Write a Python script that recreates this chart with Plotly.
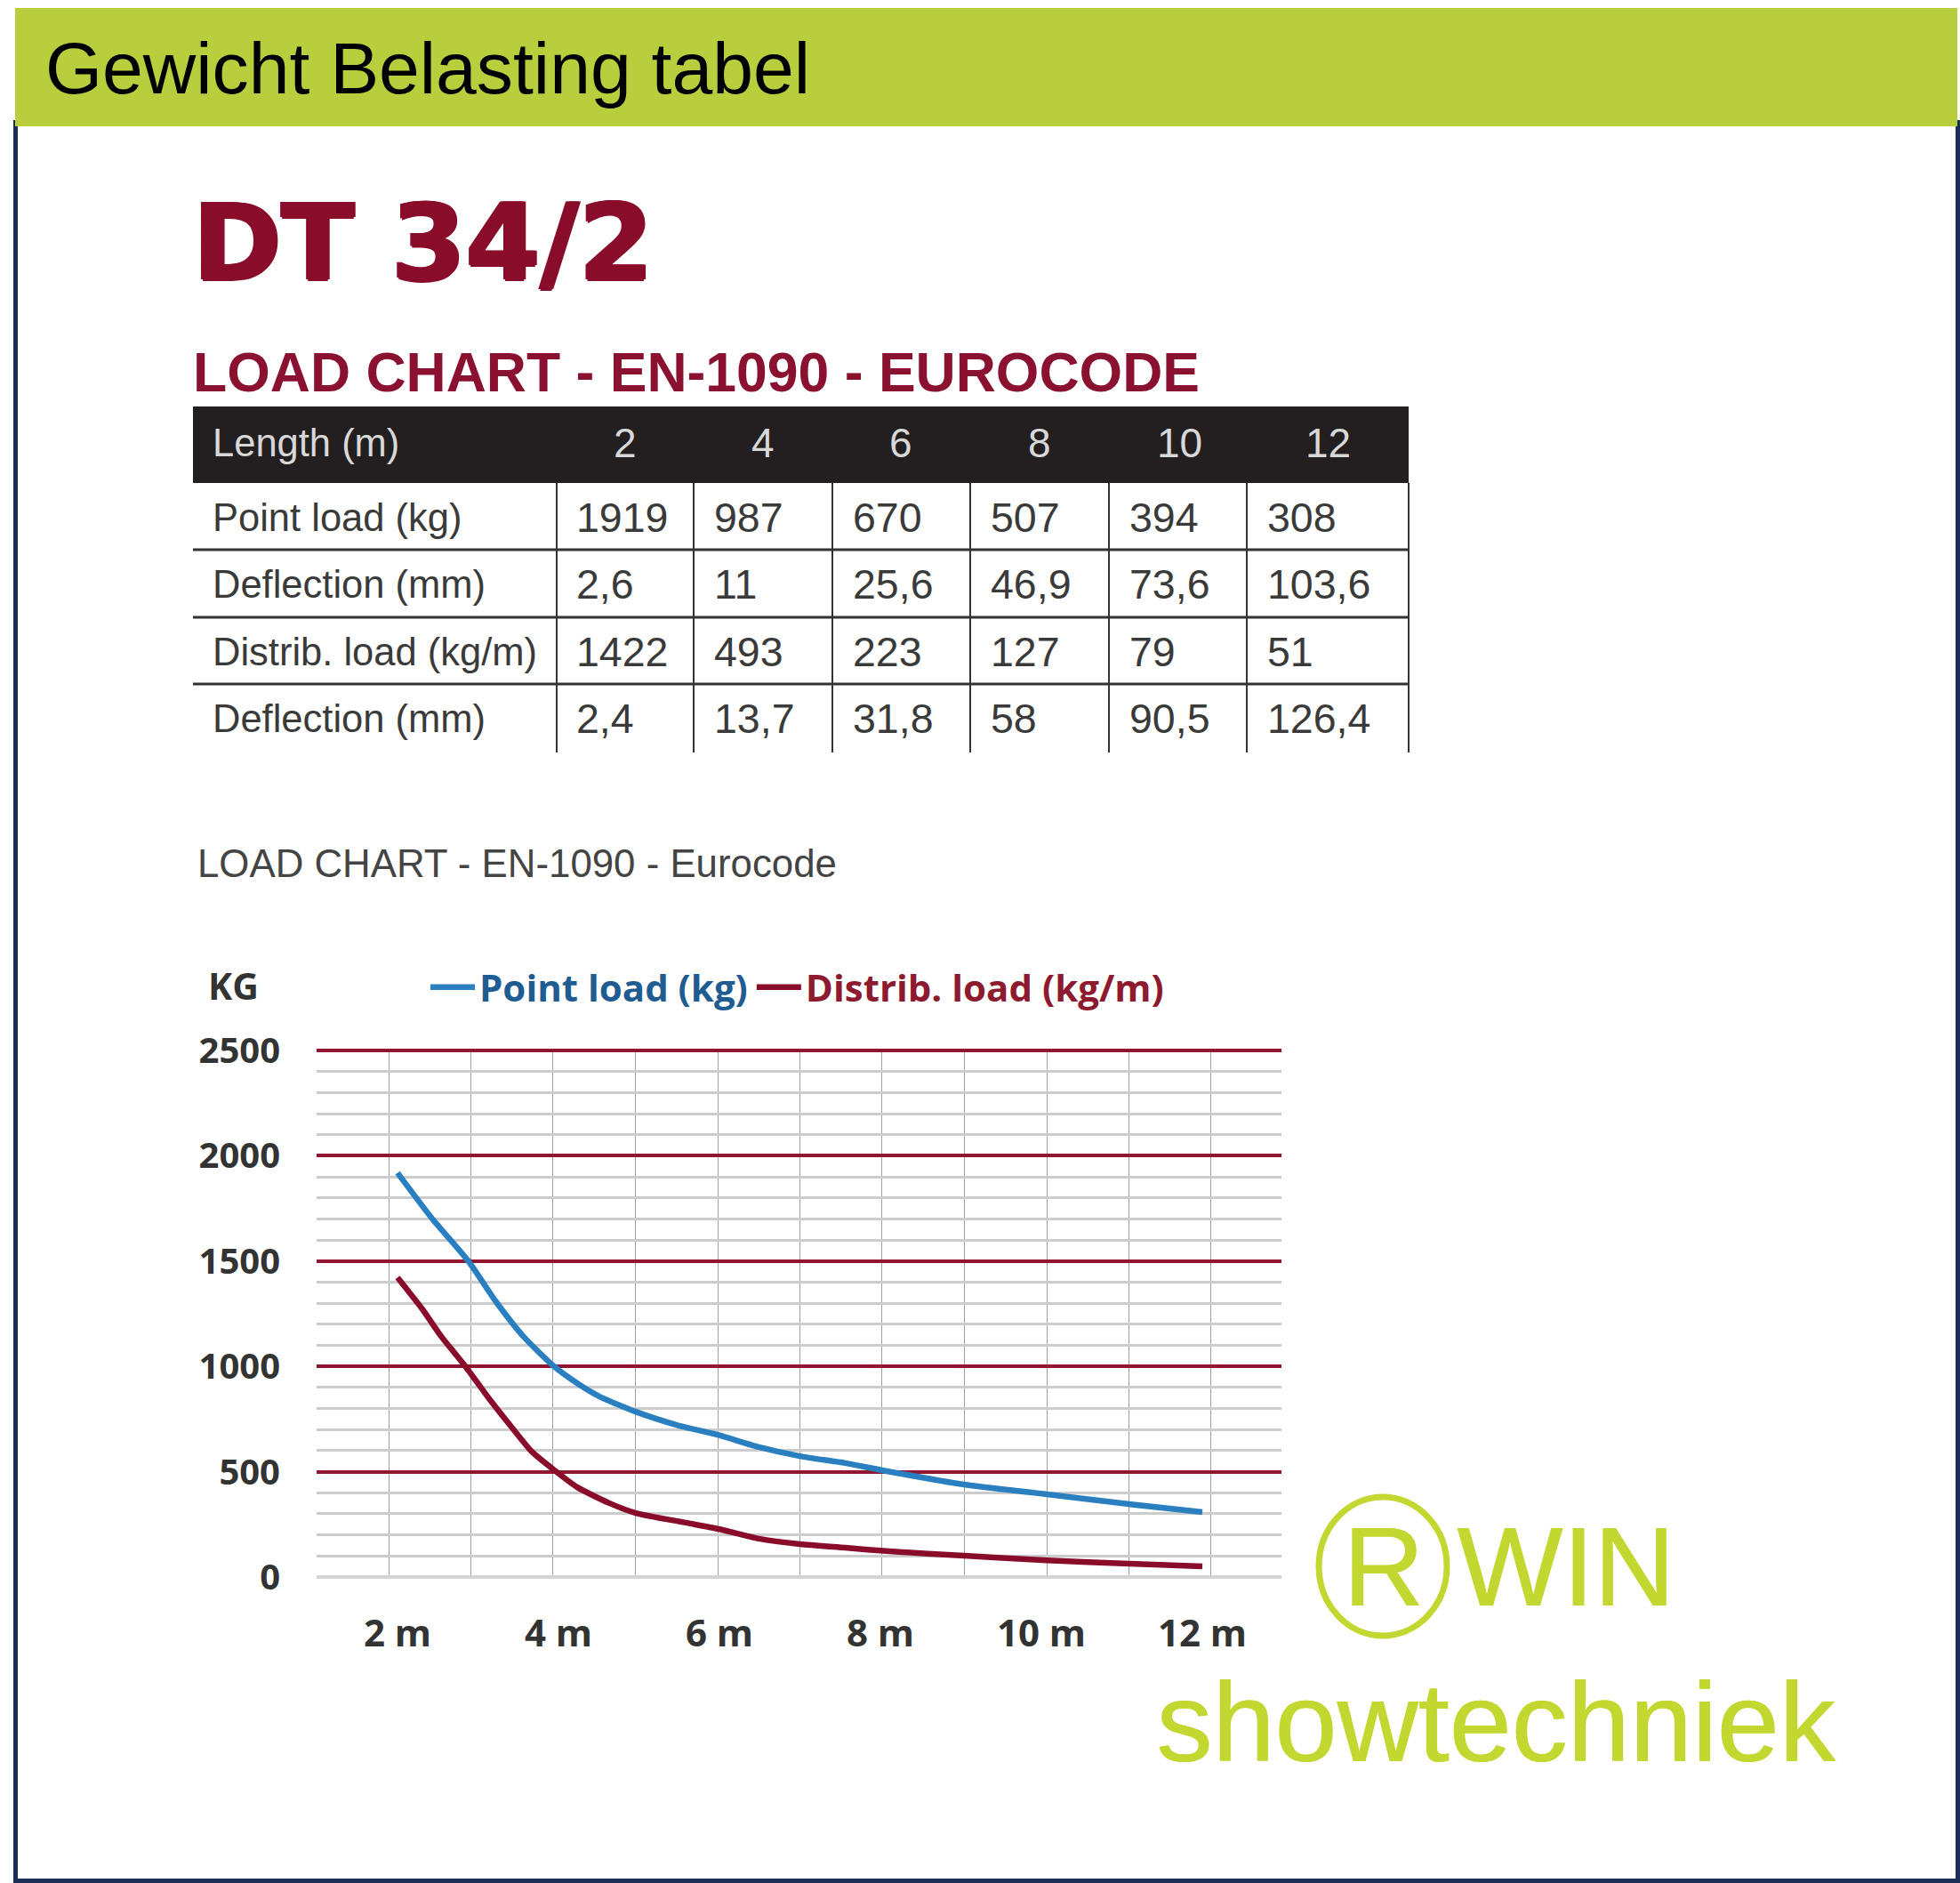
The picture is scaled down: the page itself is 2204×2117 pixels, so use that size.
import plotly.graph_objects as go

# table values
lengths = ["2", "4", "6", "8", "10", "12"]
row_names = ["Point load (kg)", "Deflection (mm)", "Distrib. load (kg/m)", "Deflection (mm)"]
point_load = ["1919", "987", "670", "507", "394", "308"]
deflection_point = ["2,6", "11", "25,6", "46,9", "73,6", "103,6"]
distrib_load = ["1422", "493", "223", "127", "79", "51"]
deflection_distrib = ["2,4", "13,7", "31,8", "58", "90,5", "126,4"]
table_rows = [point_load, deflection_point, distrib_load, deflection_distrib]

# curves
point_x = [2.0, 2.43, 2.88, 3.22, 3.56, 3.93, 4.26, 4.51, 4.96, 5.47, 5.98, 6.49, 7.0, 7.56, 8.02, 9.04, 10.07, 11.09, 12.0]
point_y = [1919, 1702, 1500, 1309, 1144, 1005, 913, 857, 785, 722, 675, 617, 574, 541, 507, 439, 393, 346, 308]
distrib_x = [2.0, 2.31, 2.54, 2.85, 3.16, 3.44, 3.67, 3.95, 4.23, 4.63, 4.96, 5.58, 5.99, 6.49, 7.0, 7.56, 8.11, 9.04, 10.07, 11.09, 12.0]
distrib_y = [1422, 1271, 1144, 997, 836, 701, 595, 507, 427, 351, 304, 258, 228, 182, 156, 139, 122, 101, 79, 63, 51]

x_ticks = [2, 4, 6, 8, 10, 12]
x_labels = ["2 m", "4 m", "6 m", "8 m", "10 m", "12 m"]
x_grid = [1.89, 2.91, 3.93, 4.96, 5.98, 7.0, 8.02, 9.04, 10.07, 11.09, 12.11]
y_ticks = [0, 500, 1000, 1500, 2000, 2500]

W, H = 2204, 2117


def fx(p):
    return p / W


def fy(p):
    return 1 - p / H


def rect(x0, y0, x1, y1, color):
    return dict(type="rect", xref="paper", yref="paper", x0=fx(x0), x1=fx(x1), y0=fy(y0), y1=fy(y1),
                fillcolor=color, line_width=0, layer="below")


def hline(x0, x1, y, color="#333333", width=3):
    return dict(type="line", xref="paper", yref="paper", x0=fx(x0), x1=fx(x1), y0=fy(y), y1=fy(y),
                line=dict(color=color, width=width))


def vline(x, y0, y1, color="#333333", width=2):
    return dict(type="line", xref="paper", yref="paper", x0=fx(x), x1=fx(x), y0=fy(y0), y1=fy(y1),
                line=dict(color=color, width=width))


def label(x, y, text, size, color="#3a3a3a", font="Liberation Sans", anchor="left", **kw):
    f = dict(family=font, size=size, color=color)
    f.update(kw)
    return dict(xref="paper", yref="paper", x=fx(x), y=fy(y), text=text, showarrow=False,
                xanchor=anchor, yanchor="middle", font=f)


NAVY = "#1a2f55"
GREEN = "#c2d72f"
RED = "#8a0c2b"
THICK = "1px 0 0 #c2d72f"

shapes = [
    rect(15, 135, 20, 2117, NAVY),
    rect(2199, 135, 2204, 2117, NAVY),
    rect(15, 2112, 2204, 2117, NAVY),
    rect(17, 9, 2201, 142, "#b9ce3c"),
    rect(217, 457, 1584, 543, "#231f20"),
    dict(type="circle", xref="paper", yref="paper", x0=fx(1483), x1=fx(1627), y0=fy(1683), y1=fy(1839),
         line=dict(color=GREEN, width=7)),
]
for y in [618, 694, 769]:
    shapes.append(hline(217, 1584, y))
for x in [626, 780, 936, 1091, 1247, 1402, 1584]:
    shapes.append(vline(x, 543, 846))

annotations = [
    label(49, 76, "Gewicht Belasting tabel", 82.3, color="#000000"),
    label(215, 272, "<b>DT 34/2</b>", 120, color=RED, font="DejaVu Sans",
          shadow="2px 0 0 #8a0c2b, -2px 0 0 #8a0c2b, 0 2px 0 #8a0c2b"),
    label(215, 418, "<b>LOAD CHART - EN-1090 - EUROCODE</b>", 62.5, color="#8a1230"),
    label(237, 498, "Length (m)", 43.5, color="#d8d8d8"),
    label(220, 970, "LOAD CHART - EN-1090 - Eurocode", 43.8, color="#444444"),
    label(262, 1108, "<b>KG</b>", 41, color="#333333", font="Open Sans", anchor="center"),
    label(1555, 1761, "R", 126, color=GREEN, anchor="center", shadow=THICK),
    label(1636, 1761, "WIN", 126, color=GREEN, shadow=THICK),
    label(1298, 1936, "showtechniek", 126, color=GREEN, shadow=THICK),
]
header_x = [703, 858, 1013, 1169, 1326, 1493]
for x, t in zip(header_x, lengths):
    annotations.append(label(x, 498, t, 46, color="#d8d8d8", anchor="center"))
row_y = [582, 657, 733, 808]
cell_x = [646, 801, 957, 1112, 1268, 1423]
for y, name, vals in zip(row_y, row_names, table_rows):
    annotations.append(label(237, y, name, 43.5))
    for x, v in zip(cell_x, vals):
        annotations.append(label(x, y, v, 46.5))

fig = go.Figure()
fig.add_trace(go.Scatter(x=point_x, y=point_y, mode="lines", name='<span style="color:#1f5c92">Point load (kg)</span>',
                         line=dict(color="#2a7fc1", width=6.5, shape="spline", smoothing=0.6)))
fig.add_trace(go.Scatter(x=distrib_x, y=distrib_y, mode="lines", name='<span style="color:#8d1a2e">Distrib. load (kg/m)</span>',
                         line=dict(color=RED, width=6.5, shape="spline", smoothing=0.6)))

px_per_m = 90.5
px_per_kg = 592 / 2500
x_low = 2 + (356 - 447) / px_per_m
x_high = 2 + (1441 - 447) / px_per_m

fig.update_layout(
    width=W,
    height=H,
    margin=dict(l=0, r=0, t=0, b=0, autoexpand=False),
    paper_bgcolor="white",
    plot_bgcolor="rgba(0,0,0,0)",
    shapes=shapes,
    annotations=annotations,
    showlegend=True,
    legend=dict(orientation="h", x=fx(479), y=fy(1110), xanchor="left", yanchor="middle", itemwidth=50,
                font=dict(family="Open Sans", size=42, weight=700), bgcolor="rgba(0,0,0,0)", itemclick=False),
    xaxis=dict(domain=[fx(356), fx(1441)], range=[x_low, x_high], showgrid=False, zeroline=False,
               tickmode="array", tickvals=x_ticks, ticktext=x_labels, ticks="", ticklabelstandoff=33,
               tickfont=dict(family="Open Sans", size=42, color="#333333", weight=700),
               minor=dict(tickmode="array", tickvals=x_grid, showgrid=True, gridcolor="#a0a0a0", gridwidth=1.2, ticks="")),
    yaxis=dict(domain=[fy(1773 + 1.5), fy(1181 - 1.5)], range=[-1.5 / px_per_kg, 2500 + 1.5 / px_per_kg],
               tickmode="array", tickvals=y_ticks, showgrid=True, gridcolor="#8f1530", gridwidth=3.5,
               zeroline=True, zerolinecolor="#d4d4d4", zerolinewidth=4, ticks="", ticklabelstandoff=40,
               tickfont=dict(family="Open Sans", size=40, color="#333333", weight=700),
               minor=dict(dtick=100, showgrid=True, gridcolor="#cccccc", gridwidth=3, ticks="")),
)

fig.write_html("out.html", config=dict(displayModeBar=False), post_script="document.body.style.margin='0';")
